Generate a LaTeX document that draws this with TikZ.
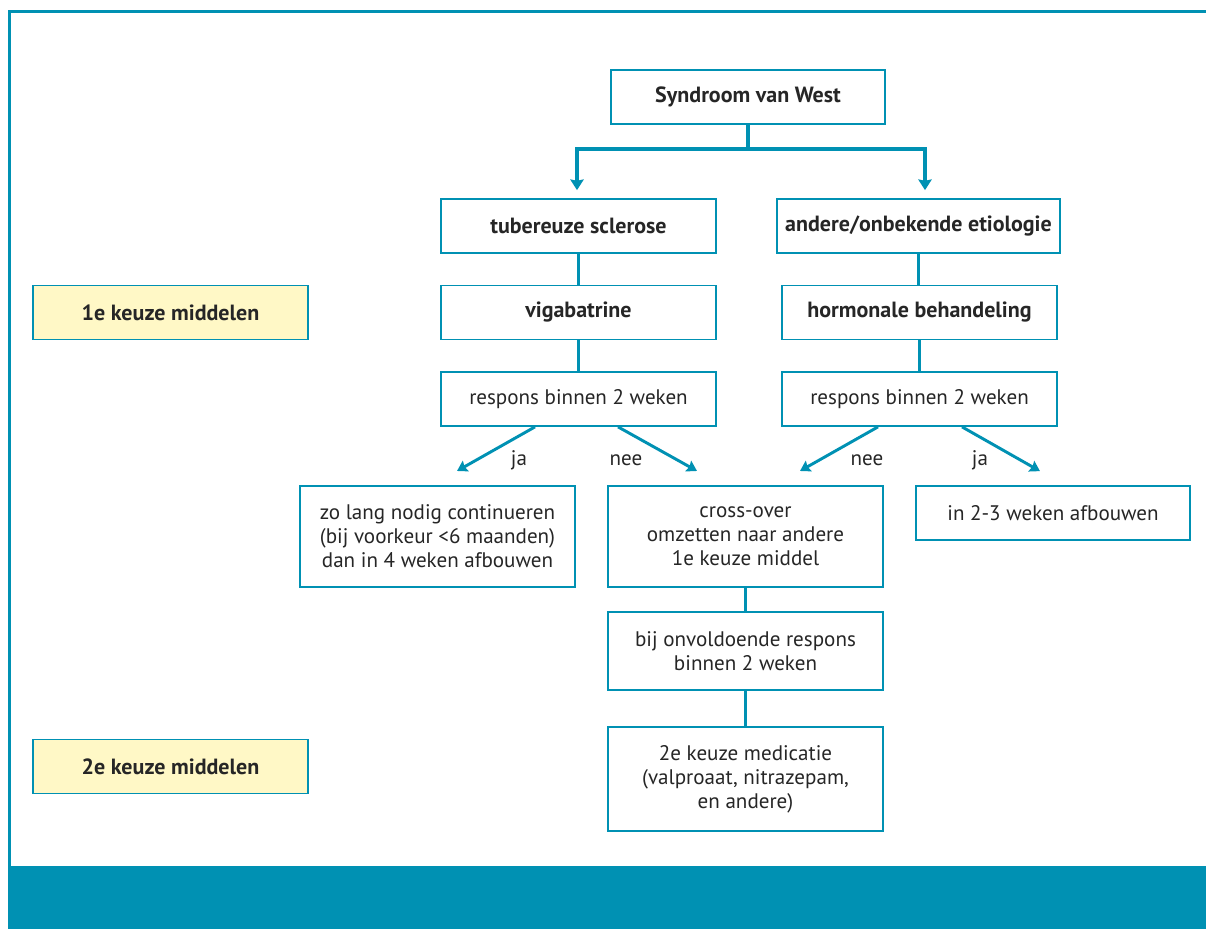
\documentclass[tikz,border=0pt]{standalone}
\usepackage{fontspec}
\setmainfont{PT Sans}
\usetikzlibrary{arrows.meta,calc}
\definecolor{teal}{HTML}{0091B3}
\definecolor{pale}{HTML}{FFF8C6}
\begin{document}
\begin{tikzpicture}[x=0.75pt,y=-0.75pt,
   every node/.style={font=\fontsize{15.8}{18}\selectfont, text=black!85},
   box/.style={draw=teal, line width=1.3pt, fill=white, align=center,
               minimum width=206pt, minimum height=40.5pt, inner sep=2pt},
   bold/.style={box, font=\fontsize{16.5}{18}\selectfont\bfseries},
   side/.style={bold, fill=pale},
   link/.style={draw=teal, line width=2.6pt},
   arr/.style={link, line width=2.2pt, -{Stealth[inset=1pt,width=9pt,length=7.5pt]}},
   lbl/.style={inner sep=0pt}]

\useasboundingbox (0,0) rectangle (1206,929);
\fill[teal] (8,866) rectangle (1206,929);
\draw[teal, line width=2.3pt] (9.5,866) |- (1206,11.5);

\node[bold, minimum width=205pt] (west) at (748,97) {Syndroom van West};
\node[bold] (tsc) at (578.5,226) {tubereuze sclerose};
\node[bold, minimum width=212pt] (etio) at (918.5,226) {andere/onbekende etiologie};
\node[bold] (vig) at (578.5,312.5) {vigabatrine};
\node[bold] (horm) at (919.5,312.5) {hormonale behandeling};
\node[box] (resp1) at (578.5,399) {respons binnen 2 weken};
\node[box] (resp2) at (919.5,399) {respons binnen 2 weken};
\node[box, minimum height=76pt] (cont) at (437.5,536.5)
   {zo lang nodig continueren\\(bij voorkeur <6 maanden)\\dan in 4 weken afbouwen};
\node[box, minimum height=76pt] (cross) at (745.5,536.5)
   {cross-over\\omzetten naar andere\\1e keuze middel};
\node[box] (afb) at (1053,513) {in 2-3 weken afbouwen};
\node[box, minimum height=58.5pt] (onv) at (745.5,651)
   {bij onvoldoende respons\\binnen 2 weken};
\node[box, minimum height=78pt] (sec) at (745.5,779)
   {2e keuze medicatie\\(valproaat, nitrazepam,\\en andere)};
\node[side] (keuze1) at (170.5,312.5) {1e keuze middelen};
\node[side] (keuze2) at (170.5,766.5) {2e keuze middelen};

% tree from the top box
\coordinate (split) at ($(west.south)+(0,24)$);
\draw[link] (west.south) -- (split);
\draw[link, -{Stealth[inset=1pt,width=10pt,length=8pt]}] (split) -| ($(tsc.north)+(-1.5,-8)$);
\draw[link, -{Stealth[inset=1pt,width=10pt,length=8pt]}] (split) -| ($(etio.north)+(6.5,-8)$);

\draw[link] (tsc) -- (vig) -- (resp1);
\draw[link] (etio.south) -- (etio.south|-horm.north);
\draw[link] (horm.south) -- (horm.south|-resp2.north);
\draw[link] (cross) -- (onv) -- (sec);

% responses
\draw[arr] ($(resp1.south)+(-43.5,0)$) -- ($(cont.north)+(19.5,-14)$);
\draw[arr] ($(resp1.south)+(39.5,0)$) -- ($(cross.north)+(-48.5,-14)$);
\draw[arr] ($(resp2.south)+(-41.5,0)$) -- ($(cross.north)+(54.5,-14)$);
\draw[arr] ($(resp2.south)+(42.5,0)$) -- ($(afb.north)+(-13,-14)$);
\node[lbl] (ja1) at (519,460) {ja};
\node[lbl] (nee1) at (626,460) {nee};
\node[lbl] (nee2) at (867,460) {nee};
\node[lbl] (ja2) at (980,460) {ja};

\end{tikzpicture}
\end{document}
